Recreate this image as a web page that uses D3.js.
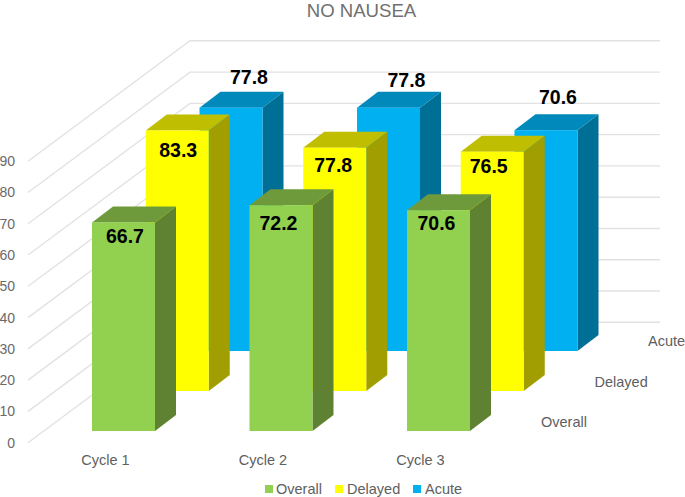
<!DOCTYPE html>
<html>
<head>
<meta charset="utf-8">
<script src="https://cdn.jsdelivr.net/npm/d3@7"></script>
<style>
html,body{margin:0;padding:0;background:#fff;}
svg{display:block;font-family:"Liberation Sans",Arial,sans-serif;}
</style>
</head>
<body>
<script>
const titleText = "NO NAUSEA";
const cycles = ["Cycle 1", "Cycle 2", "Cycle 3"];
const seriesNames = ["Overall", "Delayed", "Acute"];
const overall = [66.7, 72.2, 70.6];
const delayed = [83.3, 77.8, 76.5];
const acute = [77.8, 77.8, 70.6];
const yTicks = [0, 10, 20, 30, 40, 50, 60, 70, 80, 90];

const W = 685, H = 497;
const colors = {
  Overall: {front:"#92D050", side:"#5E8232", top:"#6E9A3C"},
  Delayed: {front:"#FFFF00", side:"#A09E00", top:"#C0BE00"},
  Acute:   {front:"#00B0F0", side:"#006F95", top:"#0089BA"}
};
const seriesValues = {Overall: overall, Delayed: delayed, Acute: acute};

// label nudges relative to the bar's front-top-centre: [dx, dy]
const labelNudge = {
  Overall: [[1.5, 20.5], [-2.5, 25], [-2, 19.5]],
  Delayed: [[1, 27], [-1.5, 24], [-3.5, 21.5]],
  Acute:   [[18, -23.5], [18, -20.5], [12, -26]]
};

const svg = d3.select("body").append("svg").attr("width", W).attr("height", H);

// scales
const heightScale = d3.scaleLinear().domain([0, 90]).range([0, 281.5]);
const cycleX = d3.scalePoint().domain(cycles).range([92, 407]);
const rowOffsetX = d3.scalePoint().domain(seriesNames).range([0, 107.5]);
const rowBaseY = d3.scalePoint().domain(seriesNames).range([431, 351]);
const barW = 63, depthX = 21, depthY = 16;

// walls
const wall = {x0: 28, x1: 190, x2: 660, y0: 442.7, y1: 322.3};
const yFront = d3.scaleLinear().domain([0, 90]).range([wall.y0, wall.y0 - 281.5]);
const yBack = d3.scaleLinear().domain([0, 90]).range([wall.y1, wall.y1 - 281.5]);
const gridG = svg.append("g").attr("fill", "none").attr("stroke", "#E2E2E2").attr("stroke-width", 1.4);
gridG.selectAll("path").data(yTicks).join("path")
  .attr("d", d => d3.line()([[wall.x0, yFront(d)], [wall.x1, yBack(d)], [wall.x2, yBack(d)]]));

// y axis labels
const axisG = svg.append("g").attr("transform", "translate(15,0)")
  .call(d3.axisLeft(yFront).tickValues(yTicks).tickSize(0).tickPadding(0));
axisG.select(".domain").remove();
axisG.selectAll("text").attr("fill", "#6a6a6a").style("font-family", "inherit").style("font-size", "14px");

// bars, back to front
const barsG = svg.append("g");
const labels = [];
seriesNames.slice().reverse().forEach(s => {
  const c = colors[s];
  cycles.forEach((cy, i) => {
    const v = seriesValues[s][i];
    const x = cycleX(cy) + rowOffsetX(s);
    const yb = rowBaseY(s);
    const yt = yb - heightScale(v);
    const g = barsG.append("g");
    g.append("path").attr("fill", c.side).attr("d",
      d3.line()([[x+barW,yb],[x+barW+depthX,yb-depthY],[x+barW+depthX,yt-depthY],[x+barW,yt]])+"Z");
    g.append("path").attr("fill", c.top).attr("d",
      d3.line()([[x,yt],[x+depthX,yt-depthY],[x+barW+depthX,yt-depthY],[x+barW,yt]])+"Z");
    g.append("rect").attr("x", x).attr("y", yt).attr("width", barW).attr("height", yb-yt).attr("fill", c.front);
    const n = labelNudge[s][i];
    labels.push({t: v.toFixed(1), x: x+barW/2+n[0], y: yt+n[1]});
  });
});

// value labels
svg.append("g").selectAll("text").data(labels).join("text")
  .attr("x", d => d.x).attr("y", d => d.y)
  .attr("text-anchor", "middle").attr("font-weight", "bold").attr("font-size", 19.5).attr("fill", "#000")
  .text(d => d.t);

// title
svg.append("text").attr("x", 361.5).attr("y", 17).attr("text-anchor", "middle")
  .attr("font-size", 18.6).attr("fill", "#707070").text(titleText);

// category labels
svg.append("g").selectAll("text").data(cycles).join("text")
  .attr("x", d => cycleX(d) + 13.5).attr("y", 464.5).attr("text-anchor", "middle")
  .attr("font-size", 14.5).attr("fill", "#606060").text(d => d);

// depth axis labels
const depthLabelX = d3.scalePoint().domain(seriesNames).range([541, 648]);
const depthLabelY = d3.scalePoint().domain(seriesNames).range([427, 346]);
svg.append("g").selectAll("text").data(seriesNames).join("text")
  .attr("x", d => depthLabelX(d)).attr("y", d => depthLabelY(d))
  .attr("font-size", 14.5).attr("fill", "#606060").text(d => d);

// legend
const legendX = d3.scaleOrdinal().domain(seriesNames).range([265, 335, 413]);
const lg = svg.append("g").selectAll("g").data(seriesNames).join("g")
  .attr("transform", d => `translate(${legendX(d)},485)`);
lg.append("rect").attr("width", 8).attr("height", 8).attr("fill", d => colors[d].front);
lg.append("text").attr("x", d => d === "Overall" ? 11 : 12).attr("y", 9)
  .attr("font-size", 14.5).attr("fill", "#606060").text(d => d);
</script>
</body>
</html>
